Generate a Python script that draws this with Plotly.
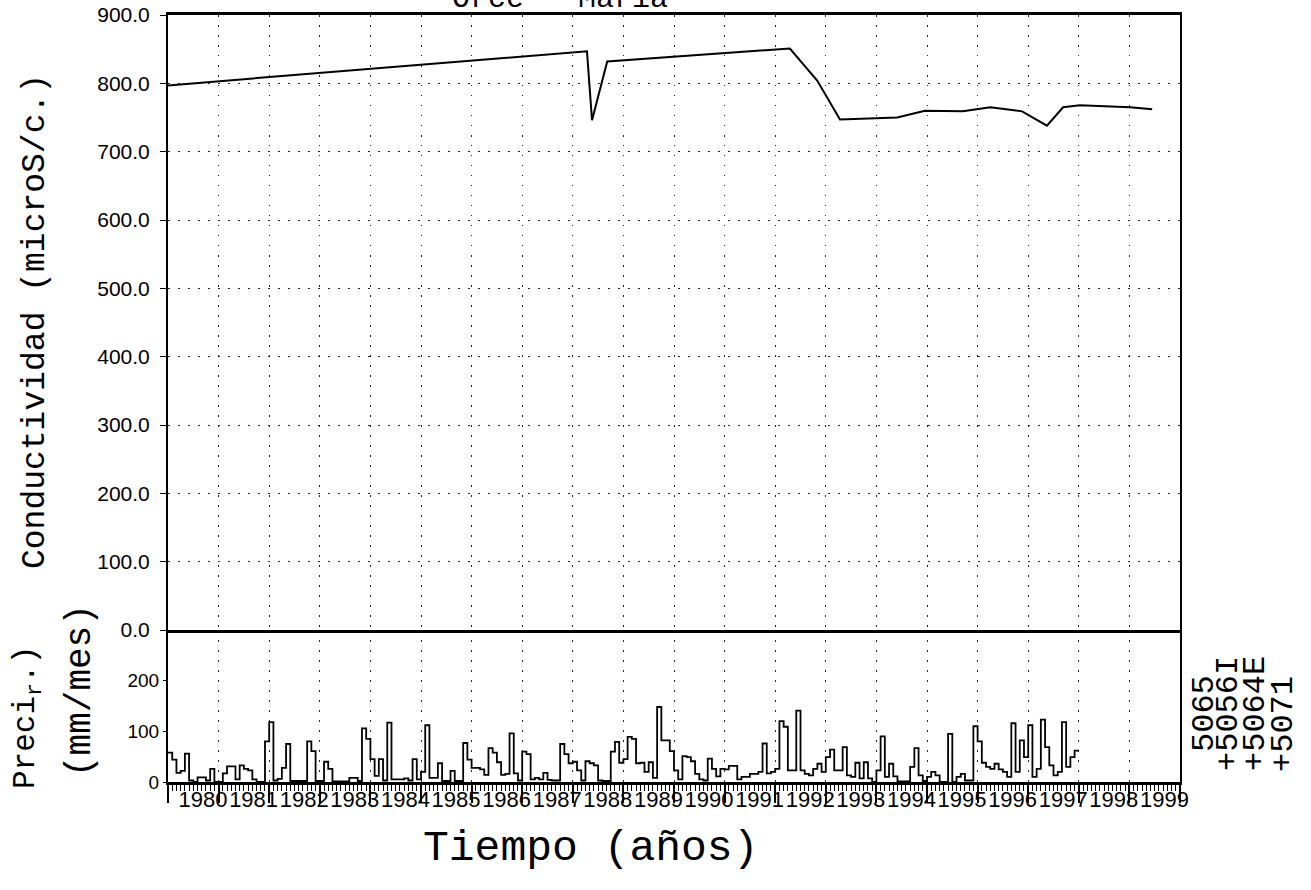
import plotly.graph_objects as go

# ---------------- data ----------------
# Monthly precipitation (mm/month), Jan 1980 .. Dec 1997
precip_mm = [
    58, 44, 18, 22, 56, 3, 0, 9, 9, 3, 26, 0,          # 1980
    0, 17, 31, 31, 5, 33, 26, 23, 5, 0, 0, 80,         # 1981
    118, 3, 6, 28, 75, 2, 2, 2, 2, 80, 61, 2,          # 1982
    2, 40, 26, 1, 1, 1, 1, 8, 8, 2, 106, 85,           # 1983
    45, 12, 45, 3, 117, 5, 5, 5, 7, 3, 45, 5,          # 1984
    20, 112, 8, 8, 37, 2, 2, 22, 2, 2, 77, 44,         # 1985
    28, 28, 25, 14, 67, 58, 39, 14, 16, 96, 17, 3,     # 1986
    60, 55, 5, 8, 5, 18, 4, 3, 3, 75, 55, 37,          # 1987
    40, 23, 3, 41, 37, 33, 3, 2, 2, 60, 79, 38,        # 1988
    45, 89, 85, 37, 38, 20, 39, 8, 148, 82, 82, 61,    # 1989
    23, 5, 51, 49, 41, 16, 5, 3, 46, 26, 11, 26,       # 1990
    25, 32, 32, 5, 10, 10, 16, 16, 20, 76, 17, 20,     # 1991
    26, 120, 109, 23, 23, 141, 23, 16, 13, 26, 36, 20, # 1992
    49, 64, 23, 23, 69, 13, 10, 38, 7, 39, 7, 0,       # 1993
    23, 90, 10, 36, 11, 1, 1, 1, 30, 67, 13, 2,        # 1994
    10, 20, 13, 0, 0, 95, 0, 10, 16, 3, 3, 110,        # 1995
    80, 38, 30, 26, 36, 25, 20, 10, 116, 20, 82, 49,   # 1996
    112, 10, 26, 123, 69, 33, 13, 20, 118, 30, 49, 62, # 1997
]
precip_start_year = 1980

# Conductivity (microS/cm)
cond_year = [1980.0, 1988.28, 1988.38, 1988.68, 1992.29, 1992.83, 1993.28,
             1994.41, 1994.96, 1995.71, 1996.25, 1996.88, 1997.37, 1997.69,
             1998.02, 1999.01, 1999.45]
cond_value = [797, 847, 746, 832, 851, 804, 747,
              750, 760, 759, 765, 759, 738, 765,
              768, 765, 762]

year_ticks = list(range(1980, 2001))
year_labels = [str(y) for y in range(1980, 2000)] + [""]
cond_ticks = [0, 100, 200, 300, 400, 500, 600, 700, 800, 900]
precip_ticks = [0, 100, 200]
station_labels = ["5065", "+5056I", "+5064E", "+5071"]

# ---------------- figure ----------------
W, H = 1311, 890
L, R, T, B = 168, 131, 15, 108
plot_w = W - L - R
plot_h = H - T - B
split = (782 - 630) / plot_h

px = [precip_start_year + m / 12 for m in range(len(precip_mm))]
px.append(precip_start_year + len(precip_mm) / 12)
py = precip_mm + [precip_mm[-1]]

fig = go.Figure()
fig.add_trace(go.Scatter(x=px, y=py, mode="lines", line=dict(color="black", width=1.8, shape="hv"),
                         xaxis="x", yaxis="y", showlegend=False, hoverinfo="skip"))
fig.add_trace(go.Scatter(x=cond_year, y=cond_value, mode="lines", line=dict(color="black", width=2),
                         xaxis="x2", yaxis="y2", showlegend=False, hoverinfo="skip"))

tick_font = dict(family="Liberation Sans, Arial", size=21, color="black")
grid_dash = "1.5px,8.5px"

fig.update_layout(
    width=W, height=H,
    margin=dict(l=L, r=R, t=T, b=B, pad=0, autoexpand=False),
    paper_bgcolor="white", plot_bgcolor="white",
    xaxis=dict(
        range=[1980, 2000], anchor="y", domain=[0, 1], automargin=False,
        tickmode="array", tickvals=year_ticks, ticktext=year_labels, tickangle=0,
        ticks="outside", ticklen=18, tickwidth=1.5, tickcolor="black",
        tickfont=dict(family="Liberation Sans, Arial", size=22, color="black"),
        ticklabelshift=35, ticklabelstandoff=-22,
        minor=dict(dtick=1 / 12, tick0=1980, ticks="outside", ticklen=6, tickwidth=1,
                   tickcolor="black", showgrid=False),
        showgrid=True, gridcolor="#222", gridwidth=1, griddash=grid_dash,
        showline=True, linecolor="black", linewidth=3,
        zeroline=False,
    ),
    xaxis2=dict(
        range=[1980, 2000], anchor="y2", matches="x", domain=[0, 1], automargin=False,
        tickmode="array", tickvals=year_ticks, showticklabels=False, ticks="",
        showgrid=True, gridcolor="#222", gridwidth=1, griddash=grid_dash,
        showline=True, linecolor="black", linewidth=2.5, mirror=True,
        zeroline=False,
    ),
    yaxis=dict(
        domain=[0, split], range=[0, 300], anchor="x", automargin=False,
        tickmode="array", tickvals=precip_ticks, ticktext=[str(v) for v in precip_ticks],
        ticks="outside", ticklen=3, tickcolor="black",
        tickfont=dict(family="Liberation Sans, Arial", size=19, color="black"),
        showgrid=False, showline=True, linecolor="black", linewidth=2, mirror=True,
        zeroline=False,
    ),
    yaxis2=dict(
        domain=[split, 1], range=[0, 900], anchor="x2", automargin=False,
        tickmode="array", tickvals=cond_ticks, ticktext=["%.1f" % v for v in cond_ticks],
        ticks="outside", ticklen=6, tickcolor="black", tickfont=tick_font,
        ticklabelstandoff=6, ticklabeloverflow="allow",
        showgrid=True, gridcolor="#222", gridwidth=1, griddash=grid_dash,
        showline=True, linecolor="black", linewidth=2, mirror=True,
        zeroline=False,
    ),
)

# helpers converting page pixel positions to paper coordinates
def xp(pxl):
    return (pxl - L) / plot_w

def yp(pyl):
    return (T + plot_h - pyl) / plot_h

serif = "Liberation Mono, Courier New, monospace"
ann = []
ann.append(dict(text="Conductividad (microS/c.)", x=xp(36), y=yp(322), xref="paper", yref="paper",
                textangle=-90, showarrow=False, font=dict(family=serif, size=33, color="black"),
                xanchor="center", yanchor="middle"))
ann.append(dict(text="Preci<sub>r</sub>.)", x=xp(28), y=yp(718), xref="paper", yref="paper",
                textangle=-90, showarrow=False, font=dict(family=serif, size=31, color="black"),
                xanchor="center", yanchor="middle"))
ann.append(dict(text="(mm/mes)", x=xp(80), y=yp(691), xref="paper", yref="paper",
                textangle=-90, showarrow=False, font=dict(family=serif, size=36, color="black"),
                xanchor="center", yanchor="middle"))
ann.append(dict(text="Tiempo (años)", x=xp(590), y=yp(848), xref="paper", yref="paper",
                showarrow=False, font=dict(family=serif, size=43, color="black"),
                xanchor="center", yanchor="middle"))
ann.append(dict(text="Orce — María", x=xp(560), y=yp(-1), xref="paper", yref="paper",
                showarrow=False, font=dict(family=serif, size=30, color="black"),
                xanchor="center", yanchor="middle"))
station_x = [1204, 1228, 1255, 1283]
station_center = [714, 714, 714, 724]
for lab, sx, sc in zip(station_labels, station_x, station_center):
    ann.append(dict(text=lab, x=xp(sx), y=yp(sc), xref="paper", yref="paper",
                    textangle=-90, showarrow=False, font=dict(family=serif, size=32, color="black"),
                    xanchor="center", yanchor="middle"))
fig.update_layout(annotations=ann)

fig.write_html("out.html", config={"displayModeBar": False},
               post_script="document.body.style.margin='0px';")
